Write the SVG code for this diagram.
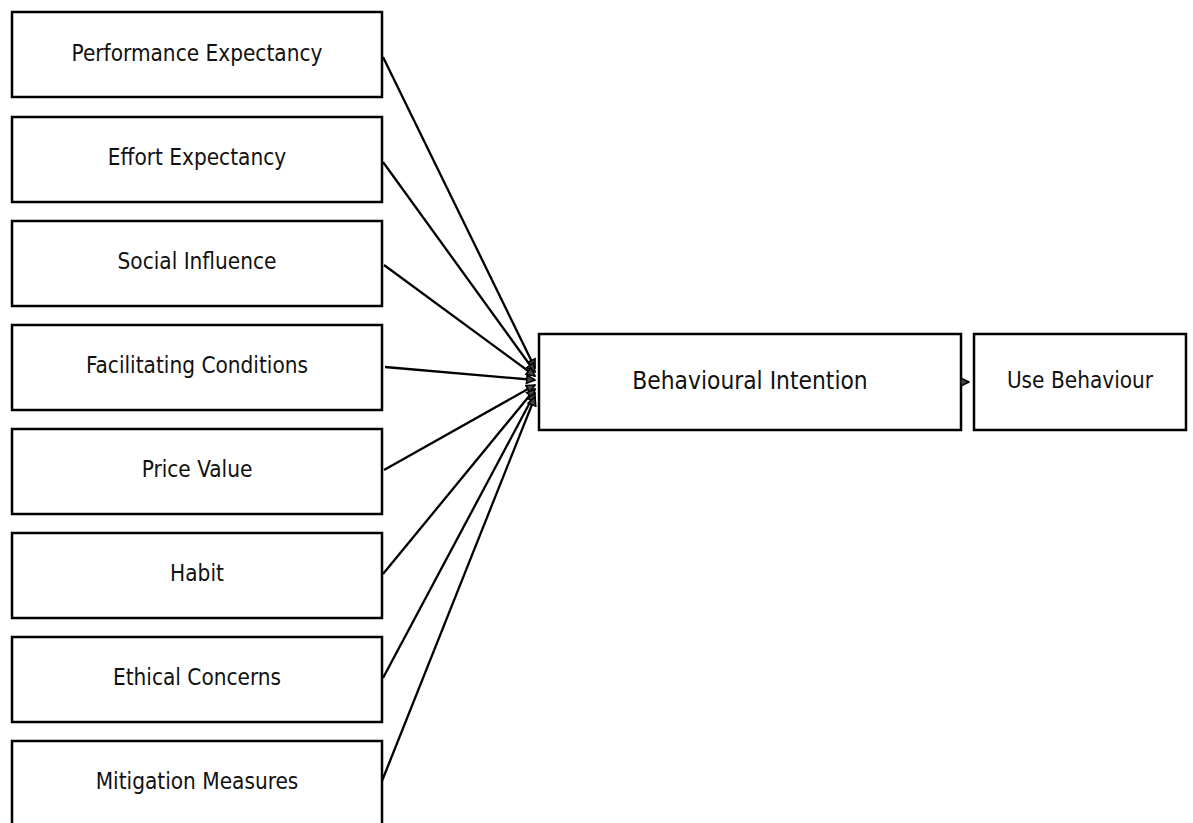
<svg xmlns="http://www.w3.org/2000/svg" width="1193" height="823" viewBox="0 0 1193 823">
<defs>
<style>
.box{fill:#fff;stroke:#000;stroke-width:2.5}
.t{font-family:"DejaVu Sans Condensed","DejaVu Sans",sans-serif;font-stretch:condensed;font-size:22.4px;fill:#111;text-anchor:middle;dominant-baseline:central}
.tb{font-family:"DejaVu Sans Condensed","DejaVu Sans",sans-serif;font-stretch:condensed;font-size:24.3px;fill:#111;text-anchor:middle;dominant-baseline:central}
.c{stroke:#000;stroke-width:2.3;fill:none}
</style>
<marker id="ah" viewBox="0 0 10 10" refX="9" refY="5" markerWidth="4.5" markerHeight="4.5" orient="auto" markerUnits="strokeWidth">
<path d="M1,1 L9,5 L1,9 Z" fill="#444" stroke="#000" stroke-width="1.5"/>
</marker>
</defs>
<rect width="1193" height="823" fill="#fff"/>
<g id="n1"><rect class="box" x="12" y="12" width="370" height="85"/><text class="t" x="197" y="53">Performance Expectancy</text></g>
<g id="n2"><rect class="box" x="12" y="117" width="370" height="85"/><text class="t" x="197" y="157">Effort Expectancy</text></g>
<g id="n3"><rect class="box" x="12" y="221" width="370" height="85"/><text class="t" x="197" y="261">Social Influence</text></g>
<g id="n4"><rect class="box" x="12" y="325" width="370" height="85"/><text class="t" x="197" y="365">Facilitating Conditions</text></g>
<g id="n5"><rect class="box" x="12" y="429" width="370" height="85"/><text class="t" x="197" y="469">Price Value</text></g>
<g id="n6"><rect class="box" x="12" y="533" width="370" height="85"/><text class="t" x="197" y="573">Habit</text></g>
<g id="n7"><rect class="box" x="12" y="637" width="370" height="85"/><text class="t" x="197" y="677">Ethical Concerns</text></g>
<g id="n8"><rect class="box" x="12" y="741" width="370" height="95"/><text class="t" x="197" y="781">Mitigation Measures</text></g>
<g id="bi"><rect class="box" x="539" y="334" width="422" height="96"/><text class="tb" x="750" y="380">Behavioural Intention</text></g>
<g id="ub"><rect class="box" x="974" y="334" width="212" height="96"/><text class="t" x="1080" y="380">Use Behaviour</text></g>
<g id="connectors">
<line class="c" x1="383" y1="57" x2="535" y2="368" marker-end="url(#ah)"/>
<line class="c" x1="383" y1="162" x2="535" y2="372" marker-end="url(#ah)"/>
<line class="c" x1="384" y1="265" x2="535" y2="376" marker-end="url(#ah)"/>
<line class="c" x1="385" y1="367" x2="535" y2="380" marker-end="url(#ah)"/>
<line class="c" x1="384" y1="470" x2="535" y2="385" marker-end="url(#ah)"/>
<line class="c" x1="383" y1="574" x2="535" y2="389" marker-end="url(#ah)"/>
<line class="c" x1="383" y1="678" x2="535" y2="393" marker-end="url(#ah)"/>
<line class="c" x1="382" y1="781" x2="535" y2="397" marker-end="url(#ah)"/>
<line class="c" x1="961" y1="382" x2="969" y2="382" marker-end="url(#ah)"/>
</g>
</svg>
